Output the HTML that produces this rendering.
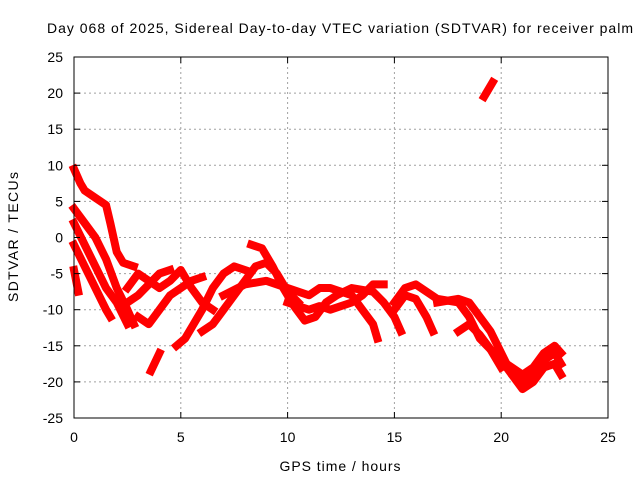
<!DOCTYPE html>
<html><head><meta charset="utf-8">
<style>
body{margin:0;background:#fff;}
svg{display:block;font-family:"Liberation Sans",sans-serif;}
</style></head>
<body>
<svg id="chart" width="640" height="480">
<text x="340" y="33" font-size="14" text-anchor="middle" textLength="586" lengthAdjust="spacing">Day 068 of 2025, Sidereal Day-to-day VTEC variation (SDTVAR) for receiver palm</text>
<text x="340" y="471" font-size="14" text-anchor="middle" textLength="121" lengthAdjust="spacing">GPS time / hours</text>
<text x="18" y="237" font-size="14" text-anchor="middle" textLength="130" lengthAdjust="spacing" transform="rotate(-90 18 237)">SDTVAR / TECUs</text>
<g id="grid"></g>
<g id="series"></g>
<rect x="74" y="57" width="534" height="361" fill="none" stroke="#000" stroke-width="1"/>
<g id="ticks"></g>
</svg>
<script>
const xTicks=[0,5,10,15,20,25];
const yTicks=[25,20,15,10,5,0,-5,-10,-15,-20,-25];
const tracks=[
[[0,9.5],[0.3,7.5],[0.5,6.5],[1,5.5],[1.5,4.5],[1.7,2],[2,-2],[2.3,-3.5],[2.8,-4]],
[[0,4],[0.5,2],[1,0],[1.5,-3],[2,-7],[2.5,-10],[2.8,-12]],
[[0,2],[0.5,-1],[1,-4],[1.5,-7],[2,-9],[2.5,-12]],
[[0,-1],[0.5,-4],[1,-7],[1.5,-10],[1.7,-11]],
[[0,-4.5],[0.2,-7.5]],
[[2.5,-7],[3,-5],[3.5,-6],[4,-7],[4.5,-6],[5,-4.5],[5.5,-7],[6,-9],[6.5,-10]],
[[2.5,-9],[3,-8],[3.5,-6.5],[4,-5],[4.5,-4.5]],
[[3,-11],[3.5,-12],[4,-10],[4.5,-8],[5,-7],[5.5,-6],[6,-5.5]],
[[3.6,-18.5],[4,-16]],
[[4.8,-15],[5.2,-14],[5.6,-12],[6,-10],[6.5,-7],[7,-5],[7.5,-4],[8,-4.5]],
[[6,-13],[6.5,-12],[7,-10],[7.5,-8],[8,-6],[8.5,-4],[9,-3.5],[9.5,-5],[10,-7.5],[10.5,-9]],
[[8.3,-1],[8.8,-1.5],[9.3,-4],[9.8,-7],[10.3,-9.5],[10.8,-11.5],[11.3,-11],[11.8,-9],[12.3,-8],[13,-7],[14,-7.5],[14.5,-9],[15,-11],[15.3,-13]],
[[7,-8],[8,-6.5],[9,-6],[10,-7],[11,-8],[11.5,-7],[12,-7],[13,-8],[13.5,-10],[14,-12],[14.2,-14]],
[[10,-9],[11,-10],[11.5,-9.5],[12,-10],[13,-9],[13.5,-8],[14,-6.5],[14.5,-6.5]],
[[15,-10],[15.5,-8],[16,-8.5],[16.5,-11],[16.8,-13]],
[[15,-9],[15.5,-7],[16,-6.5],[17,-8.5],[18,-9],[18.5,-11],[19,-14],[19.5,-15.5],[20,-17],[20.5,-18],[21,-19],[21.5,-18],[22,-16],[22.5,-15],[22.8,-16]],
[[17,-9],[18,-8.5],[18.5,-9],[19,-11],[19.5,-13],[20,-16],[20.5,-19],[21,-21],[21.5,-20],[22,-18],[22.5,-17.5],[22.8,-19]],
[[18,-13],[18.5,-12],[19,-13.5],[19.5,-15.5],[20,-18]],
[[19.2,19.5],[19.6,21.5]],
[[20,-17],[20.5,-19],[21,-20],[21.5,-19],[22,-17],[22.5,-16],[22.8,-17.5]]
];
const NS='http://www.w3.org/2000/svg';
const X0=74,X1=608,Y0=418,Y1=57;
function sx(v){return X0+(v-0)/(25-0)*(X1-X0);}
function sy(v){return Y0-(v+25)/(50)*(Y0-Y1);}
const grid=document.getElementById('grid'),ticks=document.getElementById('ticks'),ser=document.getElementById('series');
function mk(tag,attrs,parent){const e=document.createElementNS(NS,tag);for(const k in attrs)e.setAttribute(k,attrs[k]);parent.appendChild(e);return e;}
xTicks.forEach(t=>{
  const x=sx(t);
  if(t>0&&t<25){const g=mk('line',{x1:x,x2:x,y1:Y1,y2:Y0,stroke:'#a0a0a0','stroke-dasharray':'2,3'},grid);
  
  }
  mk('line',{x1:x,x2:x,y1:Y0,y2:Y0-6,stroke:'#000'},ticks);
  mk('line',{x1:x,x2:x,y1:Y1,y2:Y1+6,stroke:'#000'},ticks);
  const l=mk('text',{x:x,y:442,'font-size':14,'text-anchor':'middle'},ticks);l.textContent=t;
  
  
});
yTicks.forEach(t=>{
  const y=sy(t);
  if(t>-25&&t<25){const g=mk('line',{x1:X0,x2:X1,y1:y,y2:y,stroke:'#a0a0a0','stroke-dasharray':'2,3'},grid);
  
  }
  mk('line',{x1:X0,x2:X0+6,y1:y,y2:y,stroke:'#000'},ticks);
  mk('line',{x1:X1,x2:X1-6,y1:y,y2:y,stroke:'#000'},ticks);
  const l=mk('text',{x:63,y:y+5,'font-size':14,'text-anchor':'end'},ticks);l.textContent=t;
  
  
});
tracks.forEach(tr=>{
  const p=mk('polyline',{points:tr.map(d=>sx(d[0])+','+sy(d[1])).join(' '),fill:'none',stroke:'#ff0000','stroke-width':8,'stroke-linejoin':'round','stroke-linecap':'square'},ser);
  
  
});
</script>
</body></html>
